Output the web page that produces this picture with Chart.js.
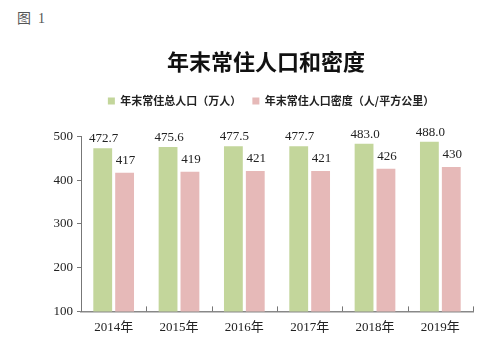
<!DOCTYPE html>
<html><head><meta charset="utf-8">
<script src="https://cdn.jsdelivr.net/npm/chart.js@4.4.1/dist/chart.umd.min.js"></script>
<style>
html,body{margin:0;padding:0;background:#fff;width:487px;height:344px;overflow:hidden;}
#fig{position:absolute;left:17px;top:7px;font:14px "Liberation Serif","Noto Sans CJK SC",serif;color:#555;}
#wrap{position:absolute;left:45px;top:0;width:442px;height:344px;}
</style></head>
<body>
<div id="fig">图&nbsp; 1</div>
<div id="wrap"><canvas id="c"></canvas></div>
<script>
const categories = ['2014年','2015年','2016年','2017年','2018年','2019年'];
const population = [472.7, 475.6, 477.5, 477.7, 483.0, 488.0];
const density = [417, 419, 421, 421, 426, 430];
const seriesNames = ['年末常住总人口（万人）','年末常住人口密度（人/平方公里）'];
const yTicks = [100, 200, 300, 400, 500];
const titleText = '年末常住人口和密度';

const serif = '"Liberation Serif","Noto Sans CJK SC",serif';

const valueLabels = {
  id: 'valueLabels',
  afterDatasetsDraw(chart) {
    const ctx = chart.ctx;
    ctx.save();
    ctx.font = '13px ' + serif;
    ctx.fillStyle = '#222';
    ctx.textAlign = 'center';
    ctx.textBaseline = 'alphabetic';
    chart.data.datasets.forEach((ds, di) => {
      const meta = chart.getDatasetMeta(di);
      const off = ds.labelOffset;
      meta.data.forEach((el, i) => {
        const v = ds.data[i];
        const txt = ds.decimals ? v.toFixed(ds.decimals) : String(v);
        ctx.fillText(txt, el.x + 1, el.y - off);
      });
    });
    ctx.restore();
  }
};

const innerTicks = {
  id: 'innerTicks',
  afterDraw(chart) {
    const x = chart.scales.x;
    const n = categories.length;
    const w = (x.right - x.left) / n;
    const ctx = chart.ctx;
    ctx.save();
    ctx.strokeStyle = '#777';
    ctx.lineWidth = 1;
    for (let i = 1; i <= n; i++) {
      const px = Math.round(x.left + i * w) + 0.5;
      ctx.beginPath();
      ctx.moveTo(px, x.top);
      ctx.lineTo(px, x.top - 5);
      ctx.stroke();
    }
    ctx.restore();
  }
};

const legendSpace = {
  id: 'legendSpace',
  beforeInit(chart) {
    const orig = chart.legend.fit;
    chart.legend.fit = function () {
      orig.call(this);
      this.height = 52;
    };
  },
  afterLayout(chart) {
    chart.legend.left += 5;
    chart.legend.right += 5;
  }
};

new Chart(document.getElementById('c'), {
  type: 'bar',
  data: {
    labels: categories,
    datasets: [
      { label: seriesNames[0], data: population, backgroundColor: '#c3d69b', decimals: 1, labelOffset: 6 },
      { label: seriesNames[1], data: density, backgroundColor: '#e6b9b8', decimals: 0, labelOffset: 9 }
    ]
  },
  options: {
    responsive: true,
    maintainAspectRatio: false,
    animation: false,
    devicePixelRatio: 1,
    layout: { padding: { left: 0, right: 0, top: 0, bottom: 9 } },
    datasets: { bar: { categoryPercentage: 0.67, barPercentage: 0.86 } },
    plugins: {
      title: {
        display: true,
        text: titleText,
        color: '#111',
        font: { family: '"Noto Sans CJK SC",sans-serif', size: 22, weight: 'bold' },
        padding: { top: 48, bottom: 10 }
      },
      legend: {
        display: true,
        labels: {
          boxWidth: 7, boxHeight: 7,
          color: '#222',
          font: { family: '"Noto Sans CJK SC",sans-serif', size: 11, weight: 'bold' },
          padding: 11
        }
      },
      tooltip: { enabled: false }
    },
    scales: {
      x: {
        grid: { display: false },
        border: { display: true, color: '#888', width: 1.5 },
        ticks: { color: '#222', font: { family: serif, size: 13 }, padding: 0 }
      },
      y: {
        min: 100, max: 500,
        afterBuildTicks(scale) { scale.ticks = yTicks.map(v => ({ value: v })); },
        afterFit(scale) { scale.width = 36; },
        grid: { display: true, drawOnChartArea: false, drawTicks: true, tickLength: 4, color: '#777' },
        border: { display: true, color: '#777', width: 1 },
        ticks: { color: '#222', font: { family: serif, size: 13 }, padding: 4 }
      },
      yr: {
        position: 'right',
        display: true,
        afterFit(scale) { scale.width = 14; },
        grid: { display: false },
        border: { display: false },
        ticks: { display: false }
      }
    }
  },
  plugins: [valueLabels, innerTicks, legendSpace]
});
</script>
</body></html>
